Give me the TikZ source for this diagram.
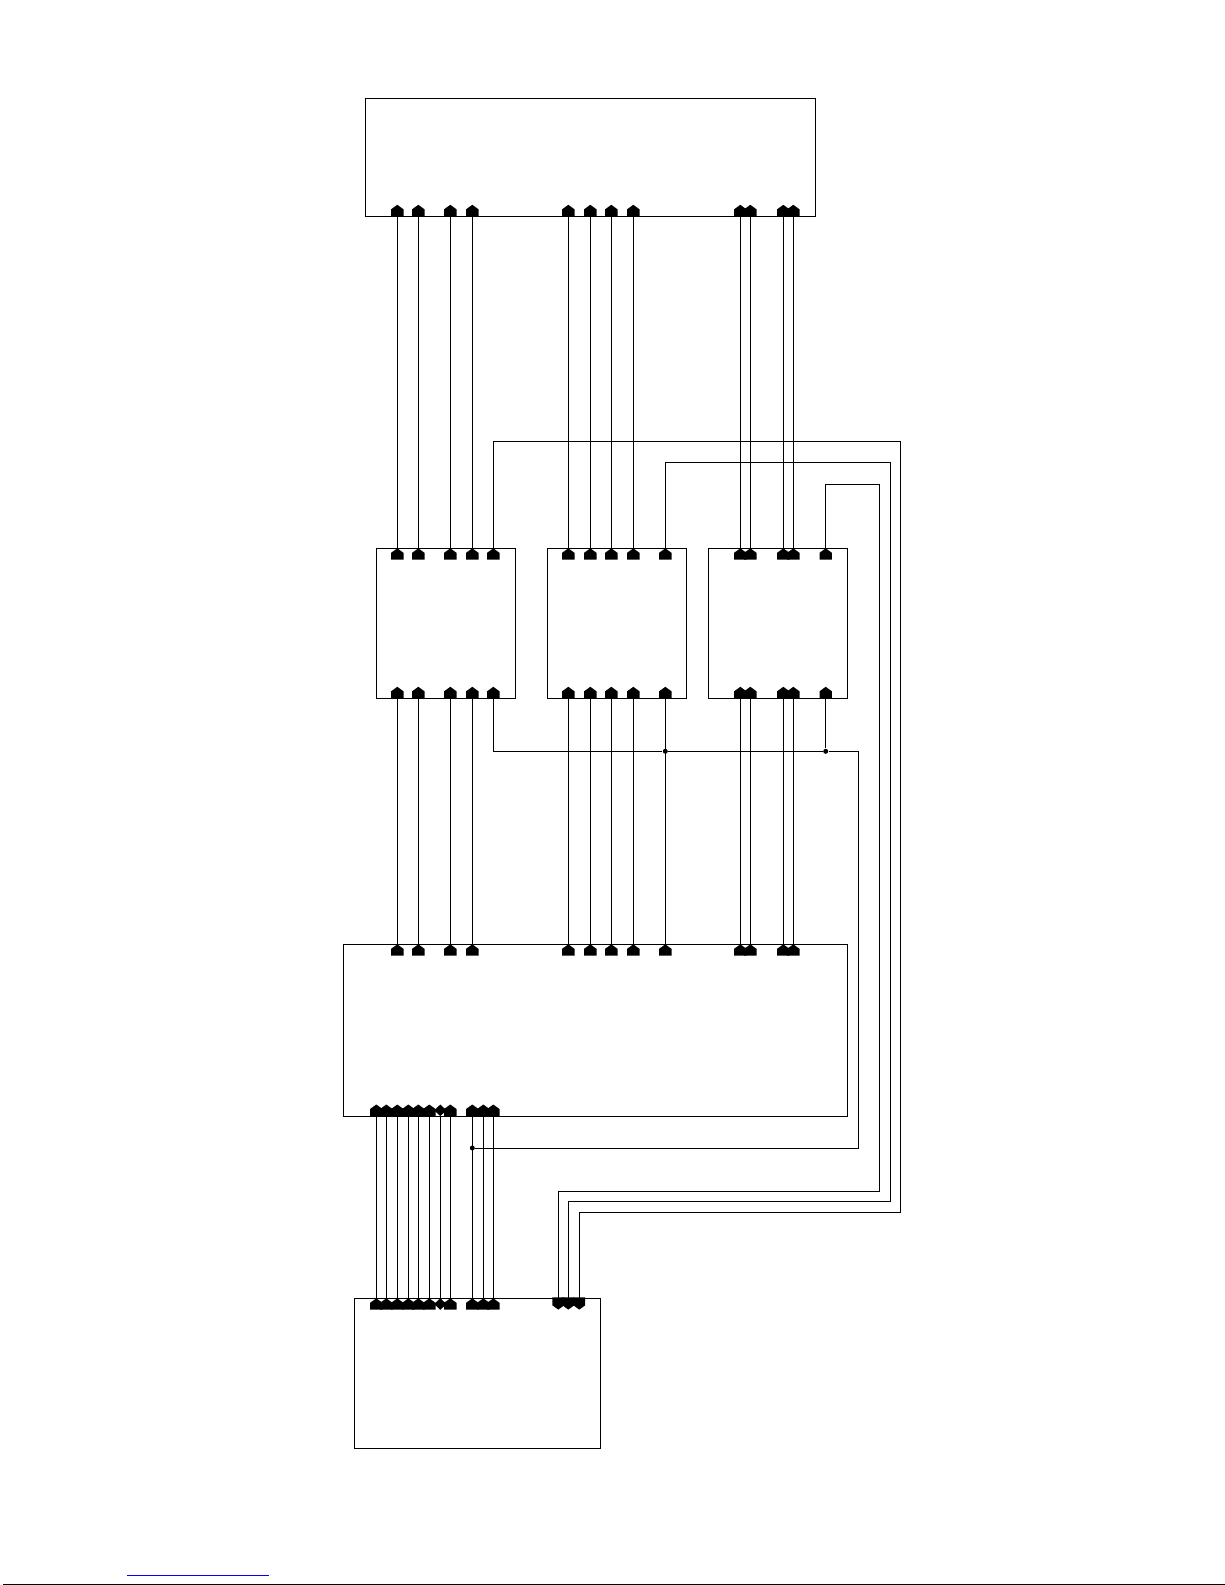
\documentclass[tikz,border=0pt]{standalone}
\usepackage{tikz}
\definecolor{linkblue}{RGB}{0,0,255}
\tikzset{
  wire/.style={line width=0.6pt},
  blk/.style={draw,line width=0.6pt,inner sep=0pt,outer sep=0pt,anchor=north west},
  pinbase/.pic={\fill (-6.2,0)--(6.2,0)--(6.2,-7)--(0,-11.5)--(-6.2,-7)--cycle;},
  pintop/.pic={\fill (0,0)--(6.2,4.5)--(6.2,11.3)--(-6.2,11.3)--(-6.2,4.5)--cycle;},
  pindown/.pic={\fill (-5.9,-1)--(5.9,-1)--(5.9,7)--(0,11.3)--(-5.9,7)--cycle;},
  pindiabase/.pic={\fill (0,0)--(6.2,-5.7)--(0,-11.5)--(-6.2,-5.7)--cycle;},
  pindiatop/.pic={\fill (0,0)--(6.2,5.7)--(0,11.5)--(-6.2,5.7)--cycle;},
  junct/.style={circle,fill,inner sep=0pt,minimum size=3pt}
}
\newcommand{\block}[5]{\node[blk,minimum width={(#4-#2)*0.6pt},minimum height={(#5-#3)*0.6pt}] (#1) at (#2,#3) {};}
\newcommand{\pinrow}[4]{\foreach \n/\x in {#4} {\coordinate (#1\n) at (\x,#2); \pic at (#1\n) {#3};}}
\newcommand{\wires}[3]{\foreach \n in {#3} {\draw[wire] (#1\n) -- (#2\n);}}
\begin{document}
\begin{tikzpicture}[x=0.6pt,y=-0.6pt]
\useasboundingbox (0,0) rectangle (1225,1585);

\block{topblk}{365.3}{98.3}{815.7}{216.3}
\block{leftblk}{376.3}{548.3}{515.3}{698.3}
\block{midblk}{547.3}{548.3}{686.3}{698.3}
\block{rightblk}{708.3}{548.3}{847.3}{698.3}
\block{mainblk}{343.3}{944.3}{847.3}{1116}
\block{lowblk}{354.3}{1298.3}{600.3}{1448}

\pinrow{tb}{216.3}{pinbase}{a/397.3,b/418.3,c/450.3,d/472.3,f/568.3,g/590.3,h/611.3,i/633.3,k/740.3,l/750.3,m/783.3,n/793.3}
\pinrow{ma}{944.3}{pintop}{a/397.3,b/418.3,c/450.3,d/472.3,f/568.3,g/590.3,h/611.3,i/633.3,j/665.3,k/740.3,l/750.3,m/783.3,n/793.3}

\pinrow{up}{548.3}{pintop}{a/397.3,b/418.3,c/450.3,d/472.3,e/493.3}
\pinrow{up}{548.3}{pintop}{f/568.3,g/590.3,h/611.3,i/633.3,j/665.3}
\pinrow{up}{548.3}{pintop}{k/740.3,l/750.3,m/783.3,n/793.3,o/825.7}
\pinrow{dn}{698.3}{pinbase}{a/397.3,b/418.3,c/450.3,d/472.3,e/493.3}
\pinrow{dn}{698.3}{pinbase}{f/568.3,g/590.3,h/611.3,i/633.3,j/665.3}
\pinrow{dn}{698.3}{pinbase}{k/740.3,l/750.3,m/783.3,n/793.3,o/825.7}

\pinrow{mb}{1116}{pinbase}{1/376.3,2/386.3,3/397.3,4/408.3,5/418.3,6/429.3,8/450.3,9/472.3,10/483.3,11/493.3}
\pinrow{mb}{1116}{pindiabase}{7/440.3}
\pinrow{lo}{1298.3}{pintop}{1/376.3,2/386.3,3/397.3,4/408.3,5/418.3,6/429.3,8/450.3,9/472.3,10/483.3,11/493.3}
\pinrow{lo}{1298.3}{pindiatop}{7/440.3}
\pinrow{lo}{1298.3}{pindown}{12/558.3,13/568.3,14/579.3}

\wires{tb}{up}{a,b,c,d,f,g,h,i,k,l,m,n}
\wires{dn}{ma}{a,b,c,d,f,g,h,i,j,k,l,m,n}
\wires{mb}{lo}{1,2,3,4,5,6,7,8,9,10,11}

\draw[wire] (upe) |- (900.7,441.3) |- (900.7,1212.3) -| (lo14);
\draw[wire] (upj) |- (890.5,462.3) |- (890.5,1201.7) -| (lo13);
\draw[wire] (upo) |- (879.5,484) |- (879.5,1191.3) -| (lo12);

\node[junct] (jmid) at (665.3,751.3) {};
\node[junct] (jright) at (825.7,751.3) {};
\node[junct] (jlow) at (472.3,1148) {};
\draw[wire] (dne) |- (jmid) -- (jright) -- (858.7,751.3) |- (jlow);
\draw[wire] (dno) -- (jright);

\draw[linkblue,line width=0.6pt] (127,1575.3) -- (268.7,1575.3);
\draw[line width=0.6pt] (3,1584.4) -- (1225,1584.4);
\end{tikzpicture}
\end{document}
